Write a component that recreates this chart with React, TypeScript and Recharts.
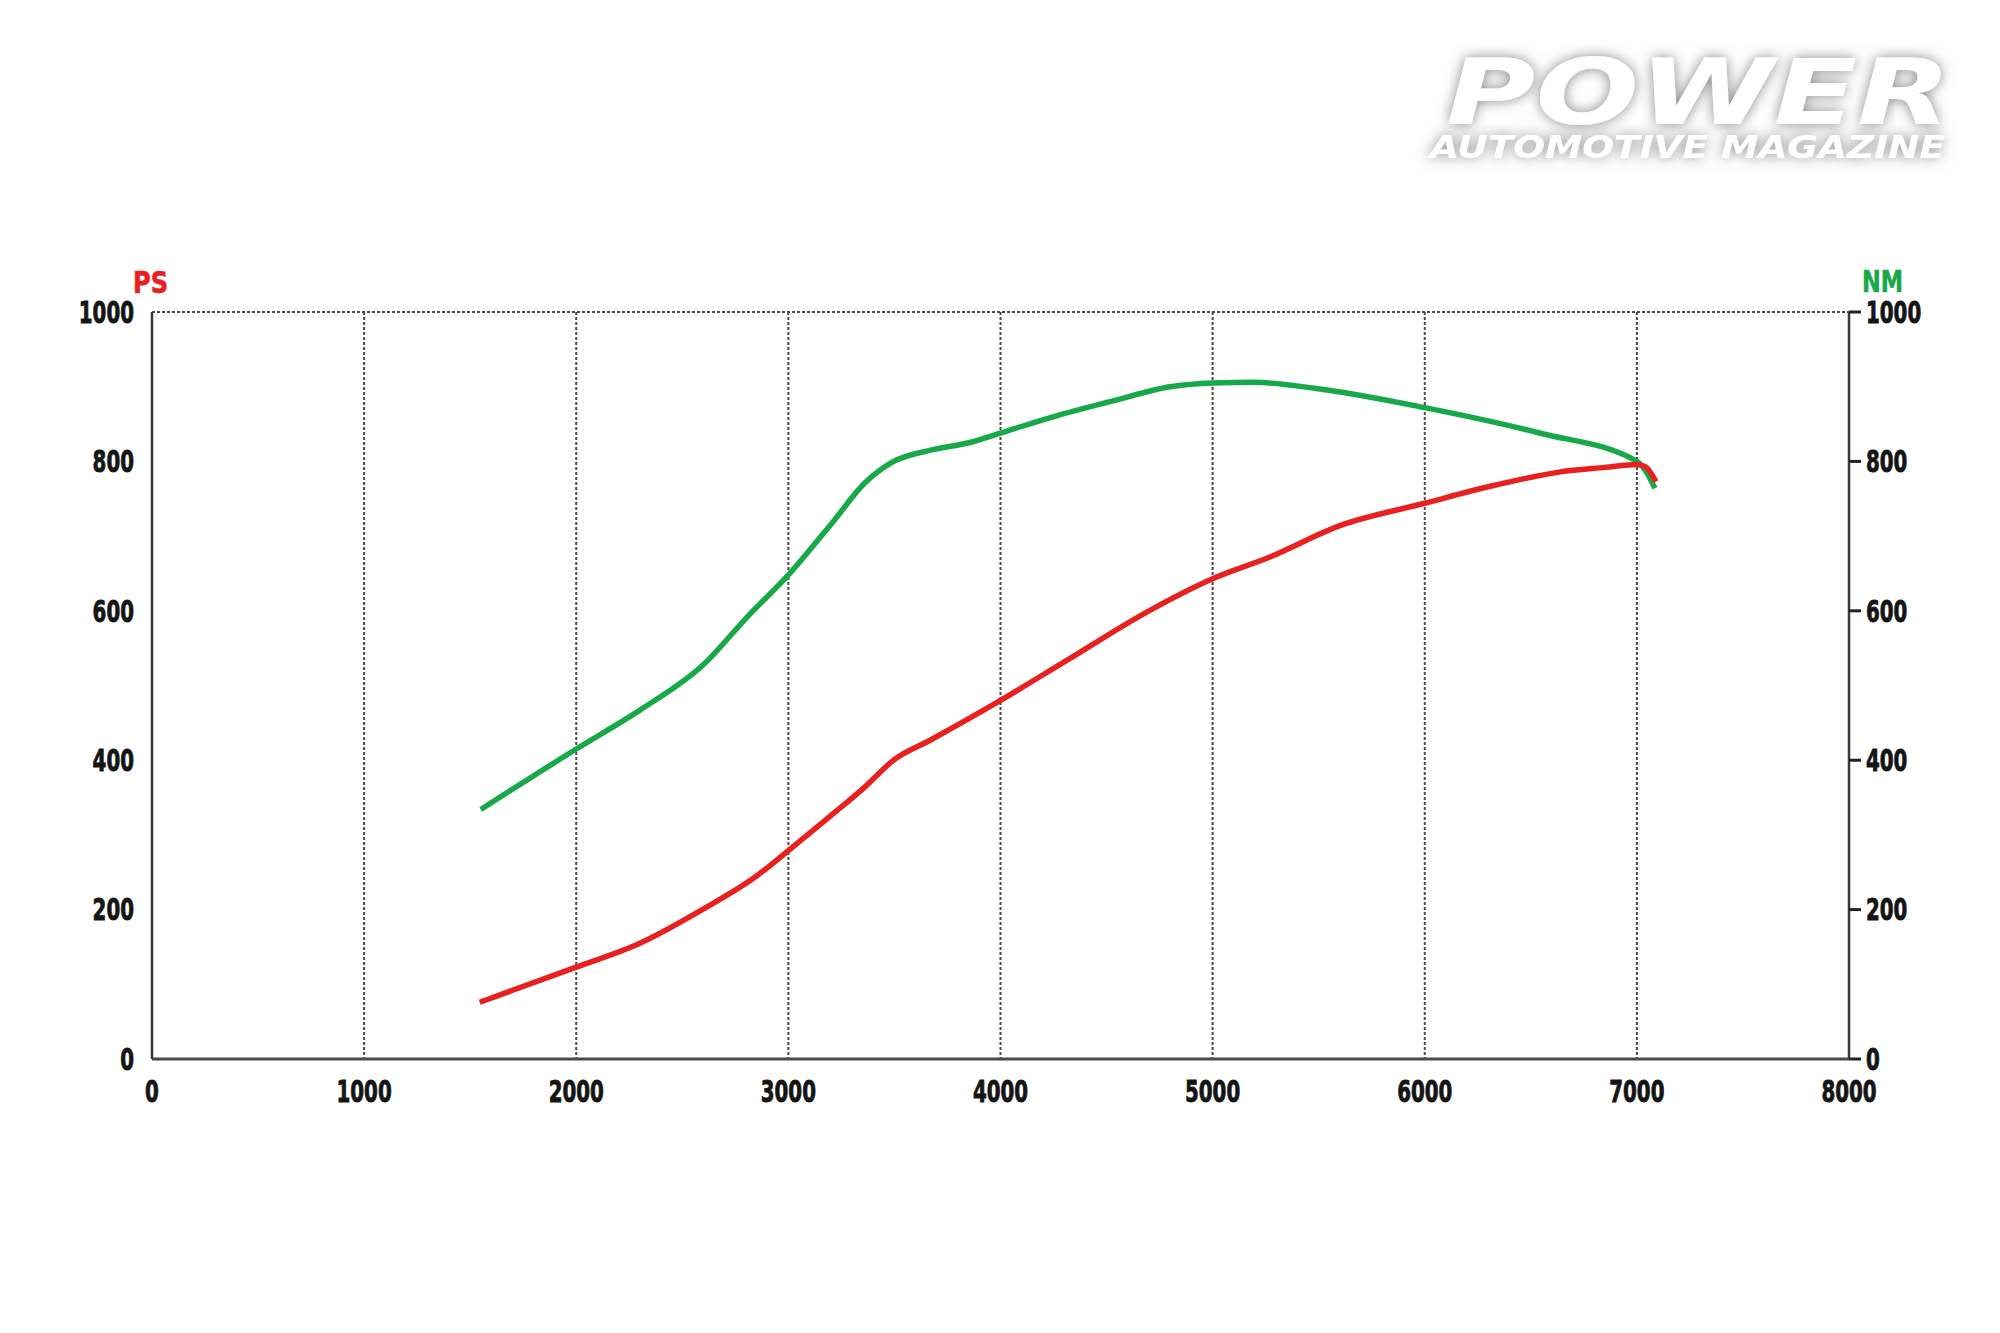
import { LineChart, Line, XAxis, YAxis, CartesianGrid } from "recharts"

// engine speed ticks and power/torque scale
const rpmTicks = [0, 1000, 2000, 3000, 4000, 5000, 6000, 7000, 8000]
const valueTicks = [0, 200, 400, 600, 800, 1000]

// power curve (PS)
const psRpm = [1545, 2000, 2300, 2600, 2850, 3000, 3210, 3360, 3500, 3670, 4000, 4320, 4700, 5000, 5270, 5600, 6000, 6330, 6640, 6850, 7000, 7040, 7090]
const psValue = [76, 123, 155, 201, 245, 279, 328, 364, 401, 427, 480, 535, 600, 643, 672, 714, 744, 768, 786, 792, 796, 793, 773]

// torque curve (NM)
const nmRpm = [1550, 2000, 2300, 2600, 2810, 3000, 3210, 3360, 3490, 3670, 3850, 4000, 4240, 4530, 4800, 5000, 5190, 5480, 6000, 6540, 7000, 7040, 7085]
const nmValue = [334, 415, 467, 528, 593, 648, 719, 771, 799, 815, 825, 838, 859, 881, 900, 905, 906, 898, 872, 838, 800, 788, 764]

const psData = psRpm.map((rpm, i) => ({ rpm, ps: psValue[i] }))
const nmData = nmRpm.map((rpm, i) => ({ rpm, nm: nmValue[i] }))

const RED = "#e8201f"
const GREEN = "#17a84a"
const FONT = "'DejaVu Sans', sans-serif"

// narrow heavy digits, like the DIN-style labels of the original
function makeTick(anchor: "start" | "middle" | "end", dy: string) {
  return (props: any) => {
    const label = String(props.payload.value)
    return (
      <text
        x={props.x}
        y={props.y}
        dy={dy}
        textAnchor={anchor}
        fontFamily={FONT}
        fontWeight={700}
        fontSize={30}
        fill="#151515"
        stroke="#151515"
        strokeWidth={0.9}
        textLength={label.length * 13.8}
        lengthAdjust="spacingAndGlyphs"
      >
        {label}
      </text>
    )
  }
}

export default function App() {
  return (
    <div style={{ position: "absolute", left: 0, top: 0, width: 2000, height: 1333, background: "#fff", overflow: "hidden" }}>
      <LineChart
        width={2000}
        height={1333}
        margin={{ top: 312, right: 51, bottom: 214, left: 52 }}
      >
        <CartesianGrid stroke="#4a4a4a" strokeWidth={2} strokeDasharray="3 2" />
        <XAxis
          type="number"
          dataKey="rpm"
          domain={[0, 8000]}
          ticks={rpmTicks}
          allowDataOverflow
          height={60}
          tickLine={false}
          tickSize={6}
          tickMargin={16}
          tick={makeTick("middle", "0.71em")}
          axisLine={{ stroke: "#4a4a4a", strokeWidth: 3 }}
        />
        <YAxis
          yAxisId="ps"
          orientation="left"
          domain={[0, 1000]}
          ticks={valueTicks}
          width={100}
          tickLine={false}
          tickSize={6}
          tickMargin={12}
          tick={makeTick("end", "0.36em")}
          axisLine={{ stroke: "#3a3a3a", strokeWidth: 2.5 }}
        />
        <YAxis
          yAxisId="nm"
          orientation="right"
          domain={[0, 1000]}
          ticks={valueTicks}
          width={100}
          tickLine={{ stroke: "#222", strokeWidth: 3 }}
          tickSize={12}
          tickMargin={5}
          tick={makeTick("start", "0.36em")}
          axisLine={{ stroke: "#3a3a3a", strokeWidth: 2.5 }}
        />
        <Line
          yAxisId="nm"
          data={nmData}
          dataKey="nm"
          type="monotone"
          stroke={GREEN}
          strokeWidth={5.5}
          dot={false}
          isAnimationActive={false}
        />
        <Line
          yAxisId="ps"
          data={psData}
          dataKey="ps"
          type="monotone"
          stroke={RED}
          strokeWidth={5.5}
          dot={false}
          isAnimationActive={false}
        />
      </LineChart>

      <svg width={2000} height={1333} style={{ position: "absolute", left: 0, top: 0, pointerEvents: "none" }}>
        <defs>
          <filter id="glow" x="-20%" y="-40%" width="140%" height="180%">
            <feDropShadow dx="0" dy="0" stdDeviation="7" floodColor="#7a7a7a" floodOpacity="0.9" />
          </filter>
        </defs>
        <text x={133} y={293} fontFamily={FONT} fontWeight={700} fontSize={30} fill={RED} stroke={RED} strokeWidth={0.6} textLength={35} lengthAdjust="spacingAndGlyphs">PS</text>
        <text x={1862} y={292} fontFamily={FONT} fontWeight={700} fontSize={30} fill={GREEN} stroke={GREEN} strokeWidth={0.6} textLength={41} lengthAdjust="spacingAndGlyphs">NM</text>
        <text filter="url(#glow)" fill="#fff" fontFamily="'DejaVu Sans', sans-serif" fontWeight={700} fontStyle="italic">
          <tspan x={1446} y={124} fontSize={90} textLength={505} lengthAdjust="spacingAndGlyphs">POWER</tspan>
          <tspan x={1430} y={158} fontSize={32} textLength={515} lengthAdjust="spacingAndGlyphs">AUTOMOTIVE MAGAZINE</tspan>
        </text>
      </svg>
    </div>
  )
}
